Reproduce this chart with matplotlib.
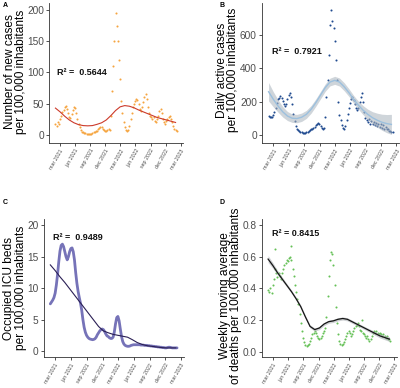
"""
Four-panel COVID-19 indicators per 100,000 inhabitants (Feb 2021 - Feb 2023)
with smoothed fits and R² annotations.
"""

import numpy as np
import pandas as pd
import matplotlib
matplotlib.use("Agg")
import matplotlib.pyplot as plt

plt.rcParams['font.family'] = ['Liberation Sans', 'DejaVu Sans']

# ─────────────────────────── DATA ─────────────────────────────────────────────
# weekly observations, starting 2021-02-01
weeks = pd.date_range('2021-02-01', periods=106, freq='7D')
# smoothed fit knots, every 28 days from 2021-02-01
knots = pd.date_range('2021-02-01', periods=27, freq='28D')

new_cases = [
    18, 15, 20, 17, 25, 30, 36, 40, 44, 46,
    42, 35, 28, 27, 33, 40, 45, 43, 35, 26,
    18, 12, 8, 5, 4, 3, 3, 2, 2, 2,
    2, 2, 3, 4, 5, 6, 7, 9, 11, 12,
    12, 10, 8, 7, 7, 8, 9, 8, 30, 70,
    110, 150, 195, 175, 150, 120, 90, 55, 35, 20,
    12, 8, 6, 8, 15, 25, 35, 45, 50, 55,
    58, 56, 50, 42, 38, 45, 52, 60, 65, 58,
    45, 35, 30, 28, 25, 28, 22, 20, 25, 30,
    38, 42, 35, 25, 20, 18, 22, 25, 28, 30,
    25, 20, 15, 10, 8, 7,
]
new_cases_fit = [43, 37, 30, 24, 19.5, 16.5, 15, 14.6, 15, 17,
                 19.5, 24, 31, 39, 45, 47, 46, 43.5, 40, 37,
                 34, 31, 28, 26, 24, 22, 20]

active_cases = [
    115, 110, 108, 112, 120, 140, 165, 195, 215, 225,
    232, 225, 205, 185, 175, 185, 215, 240, 250, 230,
    185, 130, 85, 55, 40, 30, 25, 20, 18, 16,
    15, 16, 18, 20, 25, 30, 35, 40, 45, 50,
    60, 70, 75, 70, 58, 45, 40, 42, 110, 230,
    330, 480, 660, 750, 680, 640, 560, 450, 330, 200,
    120, 90, 60, 42, 40, 55, 90, 130, 165, 195,
    215, 230, 210, 185, 165, 150, 165, 200, 230, 250,
    200, 140, 105, 90, 80, 95, 70, 85, 65, 80,
    60, 75, 55, 70, 50, 65, 45, 60, 40, 50,
    35, 38, 28, 25, 22, 18,
]
active_fit = [260, 215, 175, 140, 115, 102, 100, 108, 125, 155,
              195, 240, 285, 318, 328, 318, 290, 255, 215, 180,
              150, 125, 105, 90, 78, 70, 65]
active_ci = [55, 45, 37, 31, 27, 25, 25, 25, 24, 23,
             22, 22, 22, 23, 24, 24, 24, 23, 23, 24,
             27, 31, 36, 42, 48, 54, 60]

icu_beds = [
    7.5, 7.8, 8.1, 8.5, 9.2, 10.5, 12.2, 14.2, 15.9, 16.8,
    17.0, 16.6, 15.8, 15.0, 14.5, 15.0, 15.8, 16.3, 16.4, 15.8,
    14.5, 12.5, 10.8, 9.5, 8.5, 7.6, 6.5, 5.0, 3.8, 3.0,
    2.5, 2.2, 2.0, 1.9, 1.85, 1.8, 1.85, 1.95, 2.2, 2.6,
    2.9, 3.2, 3.4, 3.5, 3.4, 3.1, 2.7, 2.4, 2.3, 2.1,
    2.0, 2.0, 2.2, 3.0, 4.3, 5.3, 5.5, 4.8, 3.5, 2.3,
    1.5, 1.1, 0.9, 0.8, 0.75, 0.75, 0.8, 0.9, 0.95, 1.0,
    1.0, 1.0, 1.0, 1.0, 1.0, 0.95, 0.95, 0.95, 0.9, 0.9,
    0.9, 0.85, 0.85, 0.8, 0.8, 0.75, 0.75, 0.7, 0.7, 0.65,
    0.65, 0.6, 0.6, 0.55, 0.55, 0.5, 0.5, 0.55, 0.6, 0.6,
    0.55, 0.5, 0.5, 0.5, 0.5, 0.5,
]
icu_fit = [13.7, 12.8, 11.8, 10.9, 9.9, 8.9, 7.9, 6.9, 5.9, 4.9,
           3.9, 3.2, 2.9, 2.65, 2.5, 2.35, 2.2, 1.8, 1.35, 1.05,
           0.85, 0.75, 0.65, 0.55, 0.5, 0.5, 0.5]

deaths = [
    0.39, 0.38, 0.40, 0.37, 0.42, 0.46, 0.52, 0.50, 0.47, 0.50,
    0.48, 0.46, 0.50, 0.52, 0.55, 0.56, 0.58, 0.57, 0.59, 0.60,
    0.58, 0.52, 0.48, 0.42, 0.38, 0.33, 0.30, 0.24, 0.18, 0.13,
    0.09, 0.06, 0.04, 0.035, 0.04, 0.05, 0.07, 0.09, 0.11, 0.12,
    0.13, 0.12, 0.10, 0.09, 0.08, 0.09, 0.10, 0.12, 0.13, 0.15,
    0.22, 0.35, 0.48, 0.58, 0.63, 0.62, 0.55, 0.42, 0.28, 0.18,
    0.11, 0.07, 0.05, 0.045, 0.05, 0.06, 0.08, 0.10, 0.12, 0.13,
    0.12, 0.10, 0.11, 0.13, 0.15, 0.16, 0.17, 0.18, 0.16, 0.14,
    0.13, 0.12, 0.11, 0.10, 0.09, 0.10, 0.08, 0.07, 0.08, 0.10,
    0.12, 0.13, 0.12, 0.13, 0.12, 0.11, 0.12, 0.11, 0.10, 0.11,
    0.10, 0.09, 0.10, 0.08, 0.08, 0.07,
]
deaths_outlier_dates = pd.to_datetime(['2021-03-17', '2021-06-20', '2022-08-21'])
deaths_outliers = [0.65, 0.67, 0.20]
deaths_fit = [0.585, 0.545, 0.50, 0.46, 0.42, 0.38, 0.335, 0.285, 0.22, 0.16,
              0.14, 0.15, 0.175, 0.19, 0.195, 0.205, 0.21, 0.205, 0.19, 0.175,
              0.16, 0.145, 0.13, 0.115, 0.10, 0.09, 0.08]
deaths_ci = [0.022, 0.018, 0.015, 0.013, 0.011, 0.010, 0.010, 0.010, 0.010, 0.010,
             0.010, 0.010, 0.010, 0.010, 0.010, 0.010, 0.010, 0.010, 0.010, 0.010,
             0.010, 0.010, 0.011, 0.012, 0.013, 0.014, 0.015]

tick_dates = pd.date_range('2021-03-01', '2023-03-01', freq='3MS')
tick_labels = [d.strftime('%b %Y').lower() for d in tick_dates]
# ──────────────────────────────────────────────────────────────────────────────

XLIM = (pd.Timestamp('2020-12-24'), pd.Timestamp('2023-03-16'))
AX_COL = '#333333'
TXT_COL = '#4d4d4d'


def style_axes(ax, ylim, yticks, ylabel, label_xy):
    """ggplot-classic look: only left/bottom spines, small rotated date labels."""
    for s in ['top', 'right']:
        ax.spines[s].set_visible(False)
    for s in ['left', 'bottom']:
        ax.spines[s].set_color(AX_COL)
        ax.spines[s].set_linewidth(0.6)
    ax.set_xlim(*XLIM)
    ax.set_ylim(*ylim)
    ax.set_yticks(yticks)
    ax.set_xticks(tick_dates)
    ax.set_xticklabels(tick_labels, rotation=60, ha='right',
                       rotation_mode='anchor', fontsize=3.8, color=TXT_COL)
    ax.tick_params(axis='y', labelsize=7.3, labelcolor=TXT_COL,
                   length=2.2, width=0.6, color=AX_COL, pad=1.5)
    ax.tick_params(axis='x', length=2.2, width=0.6, color=AX_COL, pad=1.5)
    ax.set_ylabel(ylabel, fontsize=8.6, linespacing=0.92, va='center', ha='center')
    ax.yaxis.set_label_coords(*label_xy)
    ax.patch.set_alpha(0)


fig = plt.figure(figsize=(4.0, 3.88), dpi=100)

# ── A: new cases ─────────────────────────────────────────────
ax = fig.add_axes([0.1225, 0.6314, 0.335, 0.361])
ax.scatter(weeks, new_cases, s=2.2, color='#f5a53f', lw=0)
ax.plot(knots, new_cases_fit, color='#cc3a2a', lw=0.8)
style_axes(ax, (-12.9, 211.3), [0, 50, 100, 150, 200],
           "Number of new cases\nper 100,000 inhabitants", (-0.25, 0.51))

# ── B: active cases ──────────────────────────────────────────
ax = fig.add_axes([0.655, 0.6314, 0.3425, 0.361])
ax.scatter(weeks, active_cases, s=2.2, color='#1f4a8f', lw=0)
lo = np.array(active_fit) - np.array(active_ci)
hi = np.array(active_fit) + np.array(active_ci)
ax.fill_between(knots, lo, hi, color='#a9b3bd', alpha=0.55, lw=0, zorder=3)
ax.plot(knots, active_fit, color='#9cc0de', lw=1.0, zorder=4)
style_axes(ax, (-46, 790), [0, 200, 400, 600],
           "Daily active cases\nper 100,000 inhabitants", (-0.252, 0.52))

# ── C: ICU beds ──────────────────────────────────────────────
ax = fig.add_axes([0.109, 0.0791, 0.35, 0.3565])
ax.plot(weeks, icu_beds, color='#7673b8', lw=2.0, solid_capstyle='round')
ax.plot(knots, icu_fit, color='#2a1f55', lw=0.8)
style_axes(ax, (-1.0, 21.0), [0, 5, 10, 15, 20],
           "Occupied ICU beds\nper 100,000 inhabitants", (-0.205, 0.50))

# ── D: deaths ────────────────────────────────────────────────
ax = fig.add_axes([0.654, 0.0791, 0.338, 0.3565])
ax.scatter(weeks, deaths, s=2.2, color='#65c057', lw=0)
ax.scatter(deaths_outlier_dates, deaths_outliers, s=2.2, color='#65c057', lw=0)
lo = np.array(deaths_fit) - np.array(deaths_ci)
hi = np.array(deaths_fit) + np.array(deaths_ci)
ax.fill_between(knots, lo, hi, color='#a9adb2', alpha=0.55, lw=0, zorder=3)
ax.plot(knots, deaths_fit, color='#151515', lw=0.9, zorder=4)
style_axes(ax, (-0.035, 0.838), [0.0, 0.2, 0.4, 0.6, 0.8],
           "Weekly moving average\nof deaths per 100,000 inhabitants", (-0.228, 0.443))
ax.set_yticklabels(['0.0', '0.2', '0.4', '0.6', '0.8'])

# ── annotations ──────────────────────────────────────────────
r2_kw = dict(fontsize=6.5, fontweight='bold', ha='left', va='center', color='#111111')
fig.text(0.1418, 0.8126, "R² =  0.5644", **r2_kw)
fig.text(0.679, 0.8668, "R² =  0.7921", **r2_kw)
fig.text(0.1325, 0.3866, "R² =  0.9489", **r2_kw)
fig.text(0.679, 0.397, "R² = 0.8415", **r2_kw)

lab_kw = dict(fontsize=5, fontweight='bold', ha='left', va='center')
fig.text(0.007, 0.987, "A", **lab_kw)
fig.text(0.548, 0.987, "B", **lab_kw)
fig.text(0.007, 0.478, "C", **lab_kw)
fig.text(0.548, 0.478, "D", **lab_kw)

fig.savefig("out.png", dpi=100)
